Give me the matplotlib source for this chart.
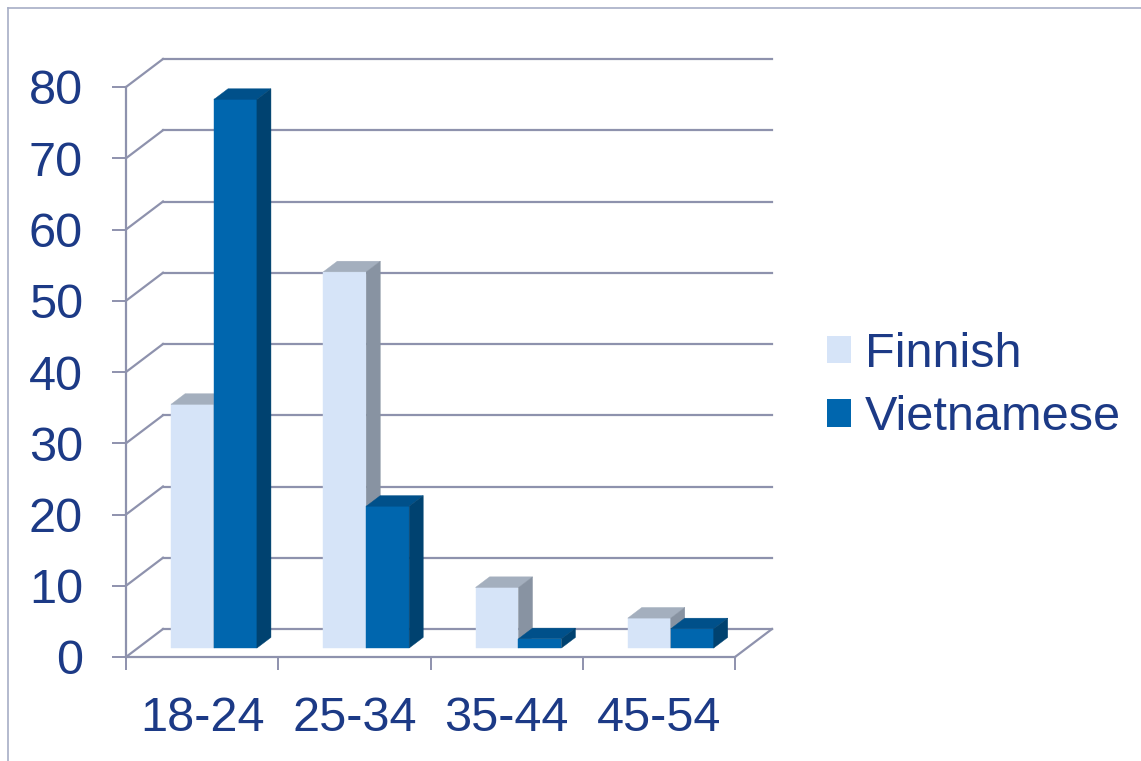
import matplotlib
matplotlib.use("Agg")
import matplotlib.pyplot as plt
from matplotlib.lines import Line2D
from matplotlib.patches import Patch, Polygon

# ---------------------------------------------------------------------------
# Data
# ---------------------------------------------------------------------------
categories = ["18-24", "25-34", "35-44", "45-54"]
series_names = ["Finnish", "Vietnamese"]
finnish = [34.2, 52.8, 8.5, 4.2]
vietnamese = [77.0, 19.9, 1.3, 2.7]
y_ticks = list(range(0, 81, 10))

# ---------------------------------------------------------------------------
# Style
# ---------------------------------------------------------------------------
TEXT = "#1C3A86"
GRID = "#8E92AD"
FRAME = "#A7AEC6"
# front, top, side
FIN_COLS = ("#D6E4F8", "#A4AFBE", "#8893A2")
VIE_COLS = ("#0066AE", "#00508A", "#004270")

plt.rcParams["font.family"] = ["Liberation Sans", "DejaVu Sans"]

W, H = 1141, 761
fig = plt.figure(figsize=(W / 100, H / 100), dpi=100)
ax = fig.add_axes([126 / W, (H - 657) / H, 609 / W, 570 / H])
ax.set_xlim(0, len(categories))
ax.set_ylim(0, 80)

# fake 3D: full depth of the wall, in data units
DX = 37 / 152.25
DY = 28 / 7.125
BW = 0.282        # width of one bar
D0 = 0.32         # depth of bar front face
DD = 0.38         # depth of bar

# back wall + side wall gridlines
for v in y_ticks:
    ax.plot([0, DX], [v, v + DY], color=GRID, lw=1.6, clip_on=False, zorder=1)
    ax.plot([DX, len(categories) + DX], [v + DY, v + DY], color=GRID, lw=1.6,
            clip_on=False, zorder=1)
ax.plot([len(categories), len(categories) + DX], [0, DY], color=GRID, lw=1.6,
        clip_on=False, zorder=1)


def draw_bar(x0, h, cols, z):
    fx = x0 + D0 * DX
    fy = D0 * DY
    ox, oy = DD * DX, DD * DY
    ax.bar(fx, h, width=BW, bottom=fy, align="edge", color=cols[0],
           edgecolor=cols[0], lw=0.3, clip_on=False, zorder=z)
    top = [(fx, fy + h), (fx + BW, fy + h), (fx + BW + ox, fy + h + oy), (fx + ox, fy + h + oy)]
    side = [(fx + BW, fy), (fx + BW + ox, fy + oy), (fx + BW + ox, fy + h + oy), (fx + BW, fy + h)]
    ax.add_patch(Polygon(top, closed=True, fc=cols[1], ec=cols[1], lw=0.3,
                         clip_on=False, zorder=z))
    ax.add_patch(Polygon(side, closed=True, fc=cols[2], ec=cols[2], lw=0.3,
                         clip_on=False, zorder=z))


for i in range(len(categories)):
    draw_bar(i + 0.5 - BW, finnish[i], FIN_COLS, 3)
    draw_bar(i + 0.5, vietnamese[i], VIE_COLS, 4)

# axes
for side in ("top", "right"):
    ax.spines[side].set_visible(False)
for side in ("left", "bottom"):
    ax.spines[side].set_color(GRID)
    ax.spines[side].set_linewidth(1.6)
    ax.spines[side].set_zorder(2)

ax.set_yticks(y_ticks)
ax.tick_params(axis="y", length=10, width=1.4, color=GRID, pad=21,
               labelsize=35, labelcolor=TEXT)
ax.set_xticks(range(len(categories) + 1))
ax.set_xticklabels([])
ax.tick_params(axis="x", which="major", length=9.5, width=1.4, color=GRID)
ax.set_xticks([i + 0.5 for i in range(len(categories))], minor=True)
ax.set_xticklabels(categories, minor=True)
ax.tick_params(axis="x", which="minor", length=0, pad=28, labelsize=35,
               labelcolor=TEXT)
ax.patch.set_visible(False)

handles = [Patch(fc=FIN_COLS[0], ec="none"), Patch(fc=VIE_COLS[0], ec="none")]
leg = fig.legend(handles, series_names, loc="center left",
                 bbox_to_anchor=(827 / W, 1 - 386 / H), frameon=False,
                 fontsize=35, handlelength=0.5, handleheight=0.5,
                 handletextpad=0.28, labelspacing=0.38, borderpad=0,
                 borderaxespad=0)
for t in leg.get_texts():
    t.set_color(TEXT)

# outer frame (cut off at right/bottom)
fig.add_artist(Line2D([8 / W, 1], [1 - 8 / H, 1 - 8 / H], color=FRAME, lw=1.2))
fig.add_artist(Line2D([8 / W, 8 / W], [0, 1 - 8 / H], color=FRAME, lw=1.2))

fig.savefig("out.png", dpi=100)
